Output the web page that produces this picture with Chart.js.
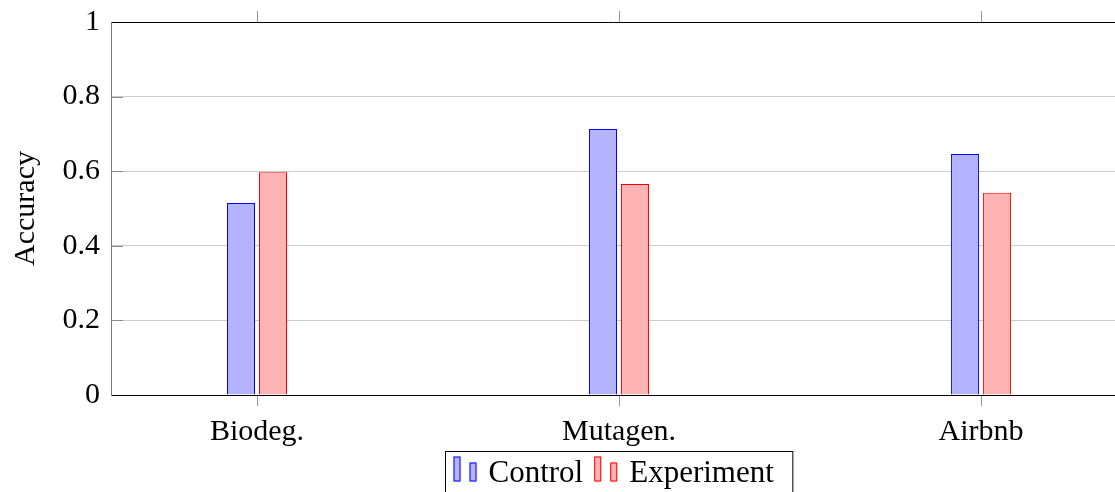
<!DOCTYPE html>
<html>
<head>
<meta charset="utf-8">
<script src="https://cdn.jsdelivr.net/npm/chart.js@4.4.1/dist/chart.umd.min.js"></script>
<style>
  html, body { margin: 0; padding: 0; background: #fff; overflow: hidden; }
</style>
</head>
<body>
<canvas id="barChart" width="1115" height="492"></canvas>
<script>
const categories = ["Biodeg.", "Mutagen.", "Airbnb"];
const controlValues = [0.515, 0.713, 0.646];
const experimentValues = [0.597, 0.566, 0.542];
const yTicks = [0, 0.2, 0.4, 0.6, 0.8, 1];
const yTickLabels = ["0", "0.2", "0.4", "0.6", "0.8", "1"];

const FONT = { family: "'Liberation Serif', serif", size: 30 };
const LEGEND_FONT = 31;
// x range chosen so that the axis box runs off the right edge like the original
const X_MIN = -0.4033;
const X_MAX = 2.370;

function catLabel(v) {
  const i = Math.round(v);
  return Math.abs(v - i) < 1e-6 && categories[i] !== undefined ? categories[i] : "";
}
// one tick per category
function categoryTicks(scale) {
  scale.ticks = categories.map((c, i) => ({ value: i }));
}

// draws the small inner y ticks and the boxed legend with two-bar icons
const extras = {
  id: "extras",
  afterDraw(chart) {
    const ctx = chart.ctx;
    const area = chart.chartArea;
    const y = chart.scales.y;
    ctx.save();
    ctx.strokeStyle = "#8a8a8a";
    ctx.lineWidth = 1;
    y.ticks.forEach(t => {
      if (t.value <= 0 || t.value >= 1) return;
      const py = Math.round(y.getPixelForValue(t.value)) + 0.5;
      ctx.beginPath();
      ctx.moveTo(area.left, py);
      ctx.lineTo(area.left + 12, py);
      ctx.stroke();
    });

    ctx.font = LEGEND_FONT + "px " + FONT.family;
    const items = chart.data.datasets.map(ds => ({
      text: ds.label, fill: ds.backgroundColor, stroke: ds.borderColor,
      w: ctx.measureText(ds.label).width
    }));
    const pad = 8, icon = 24, gap = 11;
    let total = pad;
    items.forEach(it => { total += icon + gap + it.w + gap; });
    total += pad;
    const cx = chart.scales.x.getPixelForValue(1);
    const left = Math.round(cx - total / 2) + 0.5;
    const top = Math.round(area.bottom + 56) + 0.5;
    ctx.strokeStyle = "#000";
    ctx.strokeRect(left, top, total, 60);

    let x = left + pad;
    const base = top + 30;
    items.forEach(it => {
      ctx.fillStyle = it.fill;
      ctx.strokeStyle = it.stroke;
      ctx.fillRect(x, base - 25, 7, 25);
      ctx.strokeRect(x + 0.5, base - 24.5, 6, 24);
      ctx.fillRect(x + 16, base - 19, 7, 19);
      ctx.strokeRect(x + 16.5, base - 18.5, 6, 18);
      x += icon + gap;
      ctx.fillStyle = "#000";
      ctx.textBaseline = "alphabetic";
      ctx.textAlign = "left";
      ctx.fillText(it.text, x, base);
      x += it.w + gap;
    });
    ctx.restore();
  }
};

const CHART = document.getElementById("barChart");
const barChart = new Chart(CHART, {
  type: "bar",
  data: {
    datasets: [
      {
        label: "Control",
        data: categories.map((c, i) => ({ x: i, y: controlValues[i] })),
        backgroundColor: "#b3b3ff",
        borderColor: "#0000ff",
        borderWidth: 1
      },
      {
        label: "Experiment",
        data: categories.map((c, i) => ({ x: i, y: experimentValues[i] })),
        backgroundColor: "#ffb3b3",
        borderColor: "#ff0000",
        borderWidth: 1
      }
    ]
  },
  options: {
    responsive: false,
    animation: false,
    categoryPercentage: 64 / 362,
    barPercentage: 0.875,
    layout: { padding: { top: 11, left: 0, right: 0, bottom: 0 } },
    plugins: { legend: { display: false }, tooltip: { enabled: false } },
    scales: {
      x: {
        type: "linear",
        position: "bottom",
        offset: false,
        min: X_MIN,
        max: X_MAX,
        bounds: "data",
        grid: { offset: false, drawOnChartArea: false, drawTicks: true, tickLength: 11, color: "#999" },
        border: { display: true, color: "#000", width: 1 },
        ticks: {
          autoSkip: false,
          maxRotation: 0,
          padding: 8,
          font: FONT,
          color: "#000",
          callback: v => catLabel(v)
        },
        afterBuildTicks: categoryTicks,
        afterFit: s => { s.height = 97; }
      },
      x2: {
        type: "linear",
        axis: "x",
        position: "top",
        offset: false,
        min: X_MIN,
        max: X_MAX,
        bounds: "data",
        grid: { offset: false, drawOnChartArea: false, drawTicks: true, tickLength: 11, color: "#999" },
        border: { display: true, color: "#000", width: 1 },
        ticks: { display: false, autoSkip: false },
        afterBuildTicks: categoryTicks
      },
      y: {
        min: 0,
        max: 1,
        grid: { color: "#cccccc", drawTicks: false },
        border: { display: true, color: "#777", width: 1 },
        ticks: {
          stepSize: 0.2,
          padding: 11,
          font: FONT,
          color: "#000",
          callback: v => {
            const i = yTicks.findIndex(t => Math.abs(t - v) < 1e-9);
            return i >= 0 ? yTickLabels[i] : "";
          }
        },
        title: {
          display: true,
          text: "Accuracy",
          font: FONT,
          color: "#000",
          padding: { top: 8, bottom: 0 }
        },
        afterFit: s => { s.width = 111; s.paddingTop = 0; s.paddingBottom = 0; }
      }
    }
  },
  plugins: [extras]
});
</script>
</body>
</html>
